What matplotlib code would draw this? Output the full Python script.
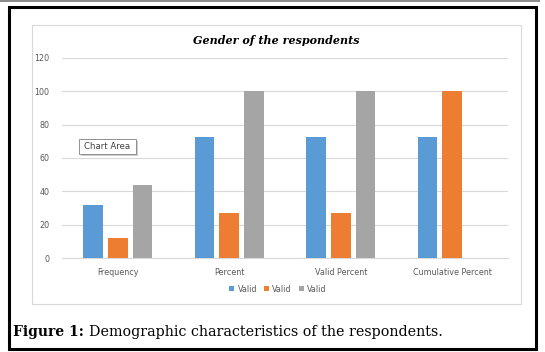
import numpy as np
import matplotlib
matplotlib.use("Agg")
import matplotlib.pyplot as plt
from matplotlib.patches import Rectangle

# Chart data
categories = ["Frequency", "Percent", "Valid Percent", "Cumulative Percent"]
series_names = ["Valid", "Valid", "Valid"]
valid_1 = [32, 72.7, 72.7, 72.7]
valid_2 = [12, 27.3, 27.3, 100]
valid_3 = [44, 100, 100, np.nan]
y_ticks = [0, 20, 40, 60, 80, 100, 120]

COLORS = ["#5B9BD5", "#ED7D31", "#A5A5A5"]
W, H = 545, 352


def px_box(x0, y0, x1, y1):
    """ Convert pixel box (top-left origin) to figure fraction rect. """
    return [x0 / W, 1 - y1 / H, (x1 - x0) / W, (y1 - y0) / H]


fig = plt.figure(figsize=(W / 100, H / 100), dpi=100)

# Outer frame and chart-area frame
fig.add_artist(Rectangle((0, 1 - 1.5 / H), 540 / W, 1.5 / H, transform=fig.transFigure,
                         facecolor="#8c8c8c", edgecolor="none"))
fig.add_artist(Rectangle((8.5 / W, 1 - 349 / H), 527 / W, 342 / H, transform=fig.transFigure,
                         facecolor="none", edgecolor="black", linewidth=2.2))
fig.add_artist(Rectangle((32 / W, 1 - 304 / H), 488.5 / W, 279 / H, transform=fig.transFigure,
                         facecolor="none", edgecolor="#d9d9d9", linewidth=0.8))

ax = fig.add_axes(px_box(62, 58, 508, 258))
x = np.arange(len(categories))
width = 0.175
pitch = 0.224
series = [valid_1, valid_2, valid_3]
for i, (vals, name, color) in enumerate(zip(series, series_names, COLORS)):
    ax.bar(x + (i - 1) * pitch, vals, width=width, color=color, label=name, zorder=3)

ax.set_xlim(-0.5, len(categories) - 0.5)
ax.set_ylim(0, 120)
ax.set_yticks(y_ticks)
ax.set_yticklabels([str(t) for t in y_ticks])
ax.set_xticks(x)
ax.set_xticklabels(categories)
ax.tick_params(axis="both", length=0, labelsize=5.8, labelcolor="#595959")
ax.tick_params(axis="y", pad=9)
ax.tick_params(axis="x", pad=7)
ax.grid(axis="y", color="#d9d9d9", linewidth=0.8, zorder=0)
for s in ["top", "right", "left"]:
    ax.spines[s].set_visible(False)
ax.spines["bottom"].set_color("#d9d9d9")
ax.spines["bottom"].set_linewidth(0.8)

fig.text(276 / W, 1 - 41 / H, "Gender of the respondents", ha="center", va="center",
         fontsize=8, fontweight="bold", fontstyle="italic", family="DejaVu Serif")

fig.legend(loc="center", bbox_to_anchor=(278 / W, 1 - 289 / H), ncol=3, frameon=False,
           fontsize=5.8, handlelength=0.6, handleheight=0.6, handletextpad=0.4,
           columnspacing=0.9, labelcolor="#595959")

# Tooltip left in the screenshot (with a faint shadow)
fig.add_artist(Rectangle((81 / W, 1 - 155.5 / H), 57 / W, 15 / H, transform=fig.transFigure,
                         facecolor="#cfcfcf", edgecolor="none"))
fig.add_artist(Rectangle((79 / W, 1 - 154 / H), 57 / W, 15 / H, transform=fig.transFigure,
                         facecolor="white", edgecolor="#7f7f7f", linewidth=0.6))
fig.text(107.5 / W, 1 - 146.5 / H, "Chart Area", ha="center", va="center", fontsize=6.2,
         color="#404040")

# Caption: bold label followed by regular text
cap = fig.text(13 / W, 1 - 332 / H, "Figure 1:", ha="left", va="center", fontsize=10,
               fontweight="bold", family="DejaVu Serif")
fig.draw_without_rendering()
bb = cap.get_window_extent()
fig.text((bb.x1 + 5) / W, 1 - 332 / H, "Demographic characteristics of the respondents.",
         ha="left", va="center", fontsize=10.3, family="DejaVu Serif")

fig.savefig("out.png", dpi=100)
